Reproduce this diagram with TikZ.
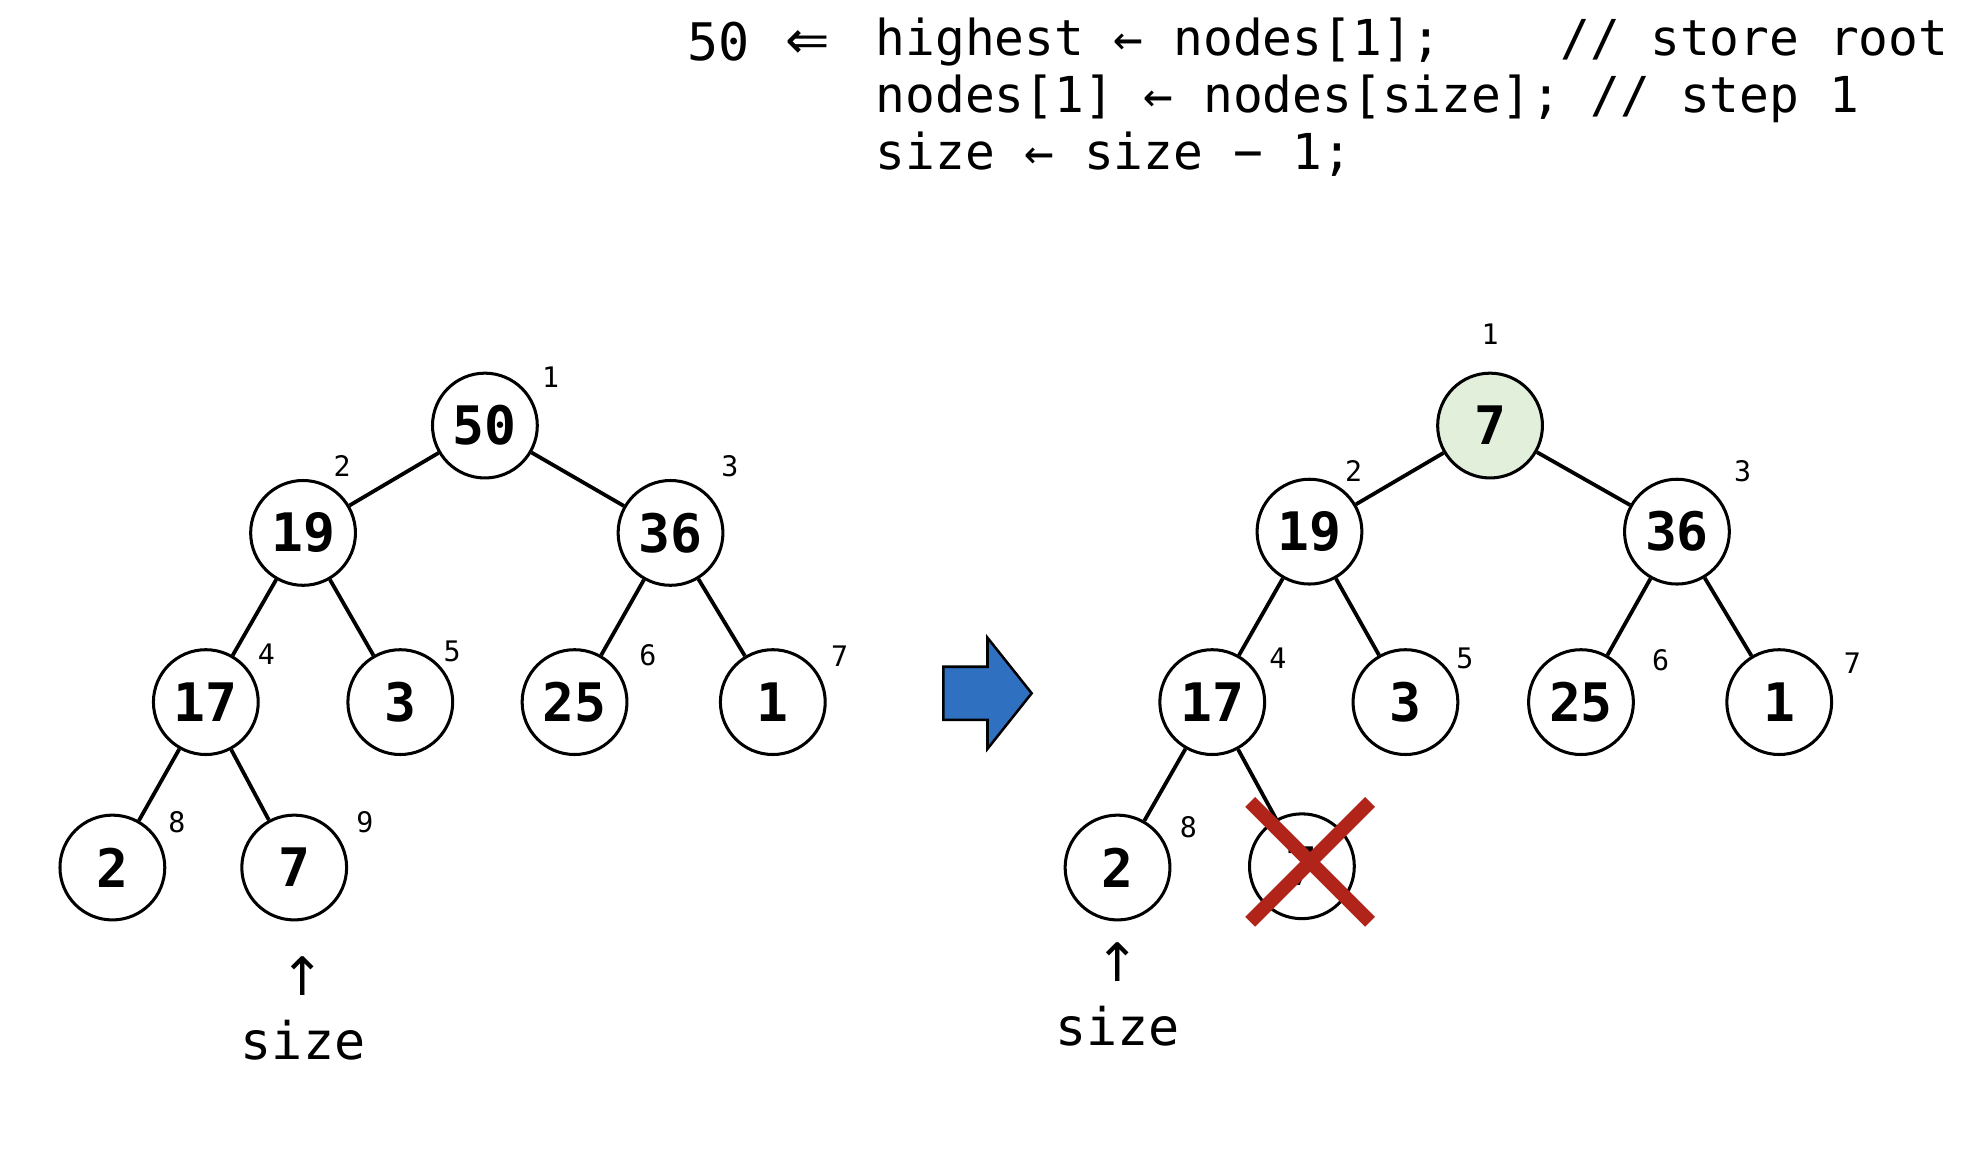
\documentclass[tikz,border=0pt]{standalone}
\usepackage{fontspec}
\newfontfamily\codefont{DejaVu Sans Mono}
\newfontfamily\symfont{DejaVu Sans}
\definecolor{rootgreen}{HTML}{E2EFDA}
\definecolor{arrowblue}{HTML}{3070C0}
\definecolor{crossred}{RGB}{176,36,26}
\begin{document}
\begin{tikzpicture}[x=0.5pt,y=-0.5pt,
  heapnode/.style={circle,draw=black,line width=1.2pt,fill=white,minimum size=41.5pt,inner sep=0pt,
    font=\codefont\bfseries\fontsize{21}{22}\selectfont},
  idx/.style={inner sep=0pt,font=\codefont\fontsize{11.2}{12}\selectfont},
  treeedge/.style={line width=1.5pt},
  codeline/.style={anchor=base west,inner sep=0pt,font=\codefont\fontsize{19.6}{22}\selectfont},
  marker/.style={inner sep=0pt,font=\codefont\fontsize{20.5}{22}\selectfont},
  bigsym/.style={inner sep=0pt,font=\symfont\fontsize{21}{22}\selectfont},
]
\useasboundingbox (0,0) rectangle (1568,912);

% pseudo-code at the top
\node[marker] (popped) at (569,33) {50};
\node[bigsym] (gets) at (640,35) {⇐};
\node[codeline] (c1) at (693,44) {highest ← nodes[1];\ \ \ \ // store root};
\node[codeline] (c2) at (693,89) {nodes[1] ← nodes[size]; // step 1};
\node[codeline] (c3) at (693,134) {size ← size − 1;};

% heap before removal
\node[heapnode] (a1) at (384,337) {50};
\node[heapnode] (a2) at (240,422) {19};
\node[heapnode] (a3) at (531,422) {36};
\node[heapnode] (a4) at (163,556) {17};
\node[heapnode] (a5) at (317,556) {3};
\node[heapnode] (a6) at (455,556) {25};
\node[heapnode] (a7) at (612,556) {1};
\node[heapnode] (a8) at (89,687) {2};
\node[heapnode] (a9) at (233,687) {7};
\draw[treeedge] (a1) -- (a2);
\draw[treeedge] (a1) -- (a3);
\draw[treeedge] (a2) -- (a4);
\draw[treeedge] (a2) -- (a5);
\draw[treeedge] (a3) -- (a6);
\draw[treeedge] (a3) -- (a7);
\draw[treeedge] (a4) -- (a8);
\draw[treeedge] (a4) -- (a9);
\node[idx] (ai1) at (436,299) {1};
\node[idx] (ai2) at (271,369) {2};
\node[idx] (ai3) at (578,369) {3};
\node[idx] (ai4) at (211,518) {4};
\node[idx] (ai5) at (358,516) {5};
\node[idx] (ai6) at (513,519) {6};
\node[idx] (ai7) at (665,520) {7};
\node[idx] (ai8) at (140,651) {8};
\node[idx] (ai9) at (289,651) {9};
\node[bigsym] (aup) at (240,773) {↑};
\node[marker,anchor=base] (asize) at (240,839) {size};

% transition arrow
\draw[fill=arrowblue,draw=black,line width=1pt,line join=miter]
  (747,528) -- (782,528) -- (782,505) -- (817,549) -- (782,593) -- (782,570) -- (747,570) -- cycle;

% heap after moving the last element to the root
\node[heapnode,fill=rootgreen] (b1) at (1180,337) {7};
\node[heapnode] (b2) at (1037,421) {19};
\node[heapnode] (b3) at (1328,421) {36};
\node[heapnode] (b4) at (960,556) {17};
\node[heapnode] (b5) at (1113,556) {3};
\node[heapnode] (b6) at (1252,556) {25};
\node[heapnode] (b7) at (1409,556) {1};
\node[heapnode] (b8) at (885,687) {2};
\node[heapnode] (b9) at (1031,686) {7};
\draw[treeedge] (b1) -- (b2);
\draw[treeedge] (b1) -- (b3);
\draw[treeedge] (b2) -- (b4);
\draw[treeedge] (b2) -- (b5);
\draw[treeedge] (b3) -- (b6);
\draw[treeedge] (b3) -- (b7);
\draw[treeedge] (b4) -- (b8);
\draw[treeedge] (b4) -- (b9);
\node[idx] (bi1) at (1180,265) {1};
\node[idx] (bi2) at (1072,373) {2};
\node[idx] (bi3) at (1380,373) {3};
\node[idx] (bi4) at (1012,521) {4};
\node[idx] (bi5) at (1160,521) {5};
\node[idx] (bi6) at (1315,523) {6};
\node[idx] (bi7) at (1467,525) {7};
\node[idx] (bi8) at (941,655) {8};
\node[bigsym] (bup) at (885,762) {↑};
\node[marker,anchor=base] (bsize) at (885,828) {size};

% removed slot crossed out
\draw[crossred,line width=5.5pt,line cap=butt] (990,635) -- (1085,730);
\draw[crossred,line width=5.5pt,line cap=butt] (1085,635) -- (990,730);
\end{tikzpicture}
\end{document}
